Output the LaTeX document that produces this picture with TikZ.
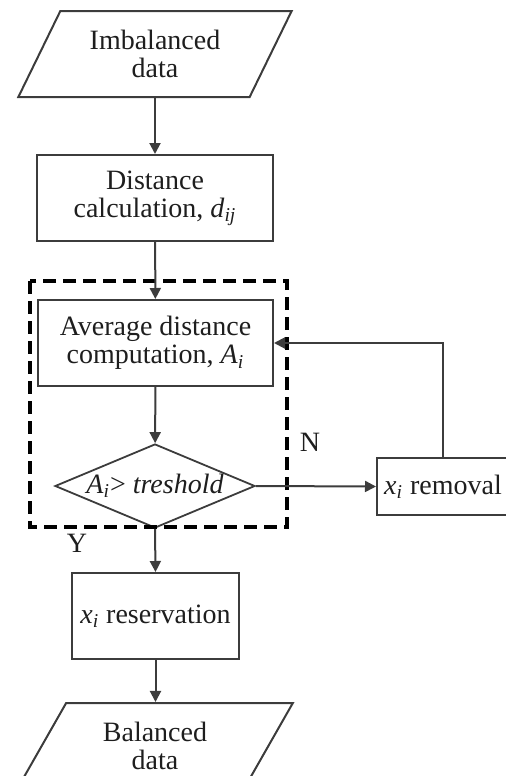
\documentclass[tikz,border=0pt]{standalone}
\usepackage{fontspec}
\setmainfont{Liberation Serif}
\usetikzlibrary{shapes.geometric, arrows.meta}
\definecolor{cLine}{RGB}{60,60,60}
\definecolor{cText}{RGB}{30,30,30}
\tikzset{
	io/.style       ={trapezium, trapezium left angle=60, trapezium right angle=120, trapezium stretches=true, minimum width=138pt, minimum height=43pt, inner sep=1pt, text centered, align=center, draw=cLine, line width=1pt},
	process/.style  ={rectangle, minimum height=43pt, inner sep=1pt, text centered, align=center, draw=cLine, line width=1pt},
	decision/.style ={diamond, aspect=2.4, minimum width=100pt, minimum height=42pt, inner sep=0pt, text centered, draw=cLine, line width=0.9pt},
	flowarrow/.style={-{Triangle[length=5.5pt, width=5.5pt]}, draw=cLine, line width=1pt},
	% dashed group around the loop
	groupbox/.style ={draw=black, line width=2.2pt, dash pattern=on 6.5pt off 3.5pt},
	lbl/.style      ={inner sep=0pt},
}
\newcommand{\sub}[2]{\textit{#1}\textsubscript{\textit{#2}}}

\begin{document}
\begin{tikzpicture}[x=0.5pt, y=-0.5pt, every node/.style={font=\fontsize{14}{14}\selectfont, text=cText}]
		\path[use as bounding box, clip] (0,0) rectangle (506,776);
		\node[io] (imb) at (155,54) {Imbalanced\\data};
		\node[process, minimum width=118pt] (dist) at (155,198) {Distance\\calculation, \sub{d}{ij}};
		\node[process, minimum width=117.5pt] (avg) at (155.5,343) {Average distance\\computation, \sub{A}{i}};
		\node[decision] (dec) at (155,486) {\sub{A}{i}> \textit{treshold}};
		\node[process, minimum width=66pt, minimum height=28.5pt] (rem) at (443,486.5) {\sub{x}{i} removal};
		\node[process, minimum width=83.5pt] (res) at (155.5,616) {\sub{x}{i} reservation};
		\node[io] (bal) at (155,746) {Balanced\\data};
		\node[lbl] (lblN) at (310,442) {N};
		\node[lbl] (lblY) at (77,543) {Y};

		\draw[groupbox] (30,281) rectangle (287,527);

		\draw[flowarrow] (imb.south -| dist.north) -- (dist.north);
		\draw[flowarrow] (dist) -- (avg);
		\draw[flowarrow] (avg) -- (dec);
		\draw[flowarrow] (dec.east) -- (rem.west);
		\draw[flowarrow] (rem.north) |- (avg.east);
		\draw[flowarrow] (dec.south) -- (res.north);
		\draw[flowarrow] (res.south) -- (res.south |- bal.north);
\end{tikzpicture}
\end{document}
